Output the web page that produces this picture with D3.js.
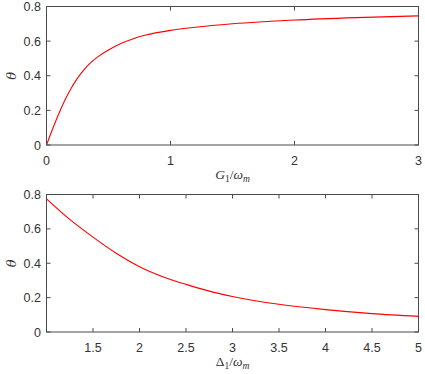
<!DOCTYPE html>
<html>
<head>
<meta charset="utf-8">
<script src="https://cdn.jsdelivr.net/npm/d3@7"></script>
<style>
  body { margin: 0; background: #fff; }
  svg text { font-family: "Liberation Sans", Arial, sans-serif; }
</style>
</head>
<body>
<svg id="chart" width="425" height="374"></svg>
<script>
// top panel: theta vs G1/wm
var gVals = [0, 0.05, 0.1, 0.15, 0.2, 0.25, 0.3, 0.35, 0.4, 0.5, 0.6, 0.7, 0.8, 1.0, 1.2, 1.5, 2.0, 2.5, 3.0];
var thetaG = [0, 0.094, 0.182, 0.261, 0.329, 0.386, 0.433, 0.471, 0.502, 0.549, 0.586, 0.614, 0.635, 0.662, 0.68, 0.7, 0.722, 0.736, 0.746];

// bottom panel: theta vs Delta1/wm
var dVals = [1.0, 1.25, 1.5, 1.75, 2.0, 2.25, 2.5, 2.75, 3.0, 3.5, 4.0, 4.5, 5.0];
var thetaD = [0.775, 0.655, 0.552, 0.458, 0.38, 0.322, 0.277, 0.238, 0.207, 0.161, 0.13, 0.107, 0.091];

var topXTicks = [0, 1, 2, 3];
var botXTicks = [1.5, 2, 2.5, 3, 3.5, 4, 4.5, 5];
var yTicks = [0, 0.2, 0.4, 0.6, 0.8];

var svg = d3.select("#chart");
var axisColor = "#4a4a4a";
var textColor = "#333";

function panel(opts) {
  var left = 46.5, right = 418.5;
  var x = d3.scaleLinear().domain(opts.xDomain).range([left, right]);
  var y = d3.scaleLinear().domain([0, 0.8]).range([opts.bottom, opts.top]);
  var g = svg.append("g");

  // ticks (inward, mirrored)
  var tl = 4;
  opts.xTicks.forEach(function(t) {
    g.append("line").attr("x1", x(t)).attr("x2", x(t)).attr("y1", opts.bottom).attr("y2", opts.bottom - tl)
      .attr("stroke", axisColor);
    g.append("line").attr("x1", x(t)).attr("x2", x(t)).attr("y1", opts.top).attr("y2", opts.top + tl)
      .attr("stroke", axisColor);
    g.append("text").attr("x", x(t)).attr("y", opts.bottom + 20)
      .attr("text-anchor", "middle").attr("font-size", 12.5).attr("fill", textColor)
      .text(t);
  });
  yTicks.forEach(function(t) {
    g.append("line").attr("x1", left).attr("x2", left + tl).attr("y1", y(t)).attr("y2", y(t))
      .attr("stroke", axisColor);
    g.append("line").attr("x1", right).attr("x2", right - tl).attr("y1", y(t)).attr("y2", y(t))
      .attr("stroke", axisColor);
    g.append("text").attr("x", left - 5.5).attr("y", y(t) + 4.5)
      .attr("text-anchor", "end").attr("font-size", 12.5).attr("fill", textColor)
      .text(t);
  });

  var line = d3.line().x(function(d) { return x(d[0]); }).y(function(d) { return y(d[1]); })
    .curve(d3.curveMonotoneX);
  g.append("path").datum(d3.zip(opts.xs, opts.ys))
    .attr("d", line).attr("fill", "none").attr("stroke", "#ff0000").attr("stroke-width", 1.1);

  g.append("rect").attr("x", left).attr("y", opts.top)
    .attr("width", right - left).attr("height", opts.bottom - opts.top)
    .attr("fill", "none").attr("stroke", axisColor).attr("stroke-width", 1);

  // y label
  g.append("text").attr("transform", "translate(16," + ((opts.top + opts.bottom) / 2) + ") rotate(-90)")
    .attr("text-anchor", "middle").attr("font-size", 13).attr("fill", textColor)
    .style("font-family", "'DejaVu Serif', serif").style("font-style", "italic")
    .text("θ");

  // x label
  var xl = g.append("text").attr("x", (left + right) / 2).attr("y", opts.bottom + 34)
    .attr("text-anchor", "middle").attr("font-size", 13.5).attr("fill", textColor)
    .style("font-family", "'Liberation Serif', serif");
  xl.append("tspan").style("font-style", opts.sym === "Δ" ? "normal" : "italic").text(opts.sym);
  xl.append("tspan").attr("font-size", 9.5).attr("dy", 3).text("1");
  xl.append("tspan").attr("dy", -3).text("/");
  xl.append("tspan").style("font-style", "italic").text("ω");
  xl.append("tspan").attr("font-size", 9.5).attr("dy", 3).style("font-style", "italic").text("m");
}

panel({ xDomain: [0, 3], top: 6.5, bottom: 145, xTicks: topXTicks, xs: gVals, ys: thetaG, sym: "G" });
panel({ xDomain: [1, 5], top: 194.5, bottom: 332, xTicks: botXTicks, xs: dVals, ys: thetaD, sym: "Δ" });
</script>
</body>
</html>
